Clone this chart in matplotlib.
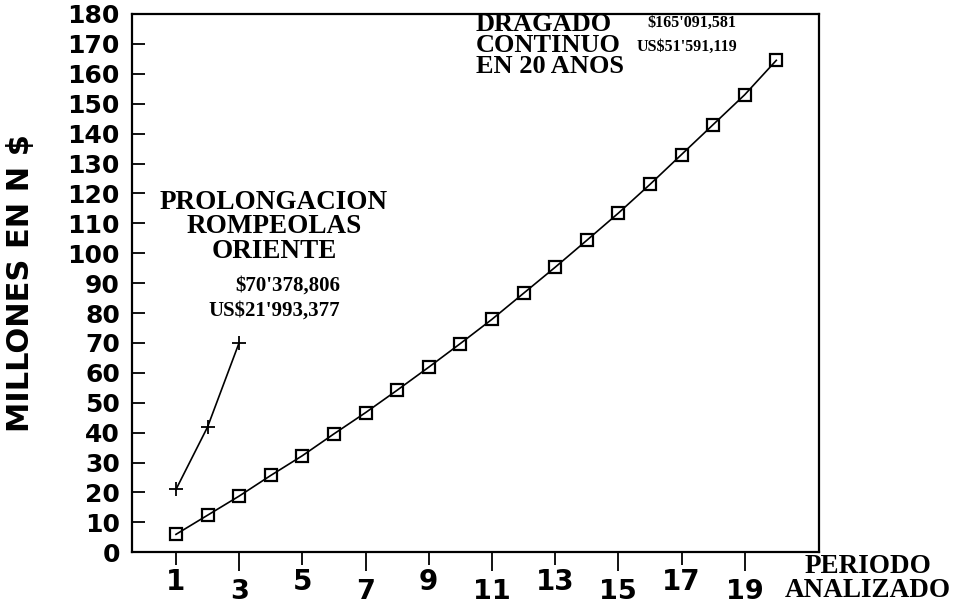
import matplotlib
matplotlib.use("Agg")
import matplotlib.pyplot as plt
from matplotlib.ticker import FixedLocator

# values (millions of N$)
periodo = list(range(1, 21))
dragado = [6.0, 12.4, 18.8, 25.7, 32.3, 39.6, 46.7, 54.2, 61.9, 69.8,
           77.9, 86.6, 95.3, 104.3, 113.4, 123.0, 133.0, 143.0, 153.0, 164.5]
periodo_rompeolas = [1, 2, 3]
rompeolas = [21.0, 41.9, 70.1]

y_ticks = list(range(0, 190, 10))
x_ticks_upper = [1, 5, 9, 13, 17]
x_ticks_lower = [3, 7, 11, 15, 19]

serif = "Liberation Serif"
sans = "DejaVu Sans"

fig = plt.figure(figsize=(9.65, 6.05), dpi=100)
ax = fig.add_axes([0.1365, 0.0871, 0.7125, 0.8898])

ax.plot(periodo, dragado, color="black", lw=1.2, marker="s", ms=8,
        mfc="none", mec="black", mew=1.6)
ax.plot(periodo_rompeolas, rompeolas, color="black", lw=1.2, marker="+",
        ms=10, mew=1.3)

ax.set_xlim(-0.4, 21.36)
ax.set_ylim(0, 180)

for s in ax.spines.values():
    s.set_linewidth(1.6)

# y axis: ticks pointing inwards, heavy sans labels
ax.set_yticks(y_ticks)
ax.tick_params(axis="y", direction="in", length=9, width=1.3, pad=8.5,
               labelsize=18)
for lab in ax.get_yticklabels():
    lab.set_fontfamily(sans)
    lab.set_fontweight("bold")

# x axis: staggered labels, upper row on major ticks, lower row on minor ticks
ax.xaxis.set_major_locator(FixedLocator(x_ticks_upper))
ax.xaxis.set_minor_locator(FixedLocator(x_ticks_lower))
ax.set_xticklabels([str(v) for v in x_ticks_upper])
ax.set_xticklabels([str(v) for v in x_ticks_lower], minor=True)
ax.tick_params(axis="x", which="major", direction="out", length=9, width=1.3,
               pad=2, labelsize=20)
ax.tick_params(axis="x", which="minor", direction="out", length=14, width=1.3,
               pad=5, labelsize=19.5)
for lab in ax.get_xticklabels(which="both"):
    lab.set_fontfamily(sans)
    lab.set_fontweight("bold")

# annotations: one text per block, anchored on the baseline of its last line
ax.text(4.1, 98.5, "PROLONGACION\nROMPEOLAS\nORIENTE", ha="center",
        va="baseline", multialignment="center", linespacing=0.97,
        family=serif, weight="bold", fontsize=19.5)
ax.text(6.19, 79.2, "$70'378,806\nUS$21'993,377", ha="right",
        va="baseline", multialignment="right", linespacing=1.3,
        family=serif, weight="bold", fontsize=15)

ax.text(10.49, 160.2, "DRAGADO\nCONTINUO\nEN 20 ANOS", ha="left",
        va="baseline", multialignment="left", linespacing=0.89,
        family=serif, weight="bold", fontsize=19)
ax.text(18.75, 167.8, "$165'091,581\nUS$51'591,119", ha="right",
        va="baseline", multialignment="right", linespacing=1.6,
        family=serif, weight="bold", fontsize=11.5)

fig.text(0.899, 0.0132, "PERIODO\nANALIZADO", ha="center", va="baseline",
         multialignment="center", linespacing=0.95,
         family=serif, weight="bold", fontsize=19.5)

fig.text(0.0212, 0.532, "MILLONES EN N $", rotation=90, ha="center",
         va="center", family=sans, weight="bold", fontsize=22)

fig.savefig("out.png", dpi=100)
